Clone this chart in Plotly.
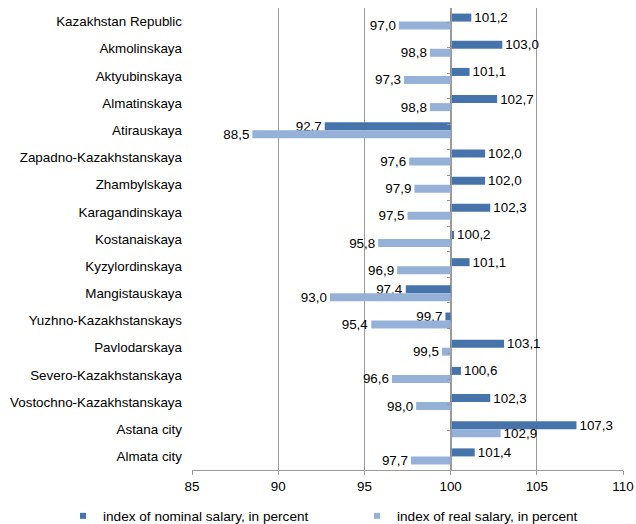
import plotly.graph_objects as go

regions = ["Kazakhstan Republic", "Akmolinskaya", "Aktyubinskaya", "Almatinskaya",
           "Atirauskaya", "Zapadno-Kazakhstanskaya", "Zhambylskaya", "Karagandinskaya",
           "Kostanaiskaya", "Kyzylordinskaya", "Mangistauskaya", "Yuzhno-Kazakhstanskays",
           "Pavlodarskaya", "Severo-Kazakhstanskaya", "Vostochno-Kazakhstanskaya",
           "Astana city", "Almata city"]
nominal = [101.2, 103.0, 101.1, 102.7, 92.7, 102.0, 102.0, 102.3, 100.2, 101.1,
           97.4, 99.7, 103.1, 100.6, 102.3, 107.3, 101.4]
real = [97.0, 98.8, 97.3, 98.8, 88.5, 97.6, 97.9, 97.5, 95.8, 96.9,
        93.0, 95.4, 99.5, 96.6, 98.0, 102.9, 97.7]
base_value = 100
x_ticks = [85, 90, 95, 100, 105, 110]
series_names = ["index of nominal salary, in percent", "index of real salary, in percent"]

FONT = "Liberation Sans, Arial, sans-serif"
C_NOM = "#4673aa"
C_REAL = "#95b1d7"
GRID = "#9a9a9a"


def fmt(v):
    return f"{v:.1f}".replace(".", ",")


fig = go.Figure()
for name, vals, col in [(series_names[0], nominal, C_NOM),
                        (series_names[1], real, C_REAL)]:
    fig.add_trace(go.Bar(
        y=regions, x=[v - base_value for v in vals], base=base_value,
        orientation="h", name=name, marker=dict(color=col, line=dict(width=0)),
        text=[fmt(v) for v in vals], textposition="outside",
        textfont=dict(family=FONT, size=13.4, color="#000000"),
        constraintext="none", cliponaxis=False, showlegend=False,
    ))
    # legend entry with a small square symbol
    fig.add_trace(go.Scatter(
        x=[None], y=[None], mode="markers", name=name,
        marker=dict(symbol="square", size=6, color=col), showlegend=True,
    ))

# invisible trace for the category axis drawn at x=100
fig.add_trace(go.Scatter(y=regions, x=[base_value] * len(regions), yaxis="y2",
                         mode="markers", marker=dict(opacity=0), showlegend=False,
                         hoverinfo="skip"))

W, H = 636, 524
L, R, T, B = 192, 13, 8, 54
PW, PH = W - L - R, H - T - B
fig.update_layout(
    width=W, height=H,
    margin=dict(l=L, r=R, t=T, b=B, autoexpand=False),
    paper_bgcolor="white", plot_bgcolor="white",
    barmode="group", bargap=0.41, bargroupgap=0,
    font=dict(family=FONT, size=13.4, color="#000000"),
    xaxis=dict(range=[85, 110], tickvals=x_ticks, showgrid=True, gridcolor=GRID,
               gridwidth=1, zeroline=False, showline=True, linecolor=GRID,
               ticks="outside", ticklen=4, tickcolor=GRID, automargin=False,
               tickfont=dict(size=13.4)),
    yaxis=dict(autorange="reversed", showgrid=False, zeroline=False, showline=False,
               ticks="", tickfont=dict(size=13.4), ticklabelstandoff=9,
               automargin=False),
    yaxis2=dict(overlaying="y", anchor="free", position=(451 - L) / PW,
                autorange="reversed", showgrid=False, zeroline=False,
                showline=True, linecolor=GRID, ticks="outside", ticklen=4,
                tickcolor=GRID, tickson="boundaries", showticklabels=False,
                type="category", automargin=False),
    legend=dict(orientation="h", x=(63 - L) / PW, xanchor="left",
                y=(T + PH - 516) / PH, yanchor="middle",
                font=dict(size=13.6), entrywidth=249, entrywidthmode="pixels",
                itemwidth=30, traceorder="normal"),
    showlegend=True,
)

# remove the default page margin so the 636x524 figure fills the window exactly
fig.write_html(
    "out.html",
    config={"displayModeBar": False},
    post_script="document.body.style.margin='0';"
                "document.documentElement.style.overflow='hidden';",
)
